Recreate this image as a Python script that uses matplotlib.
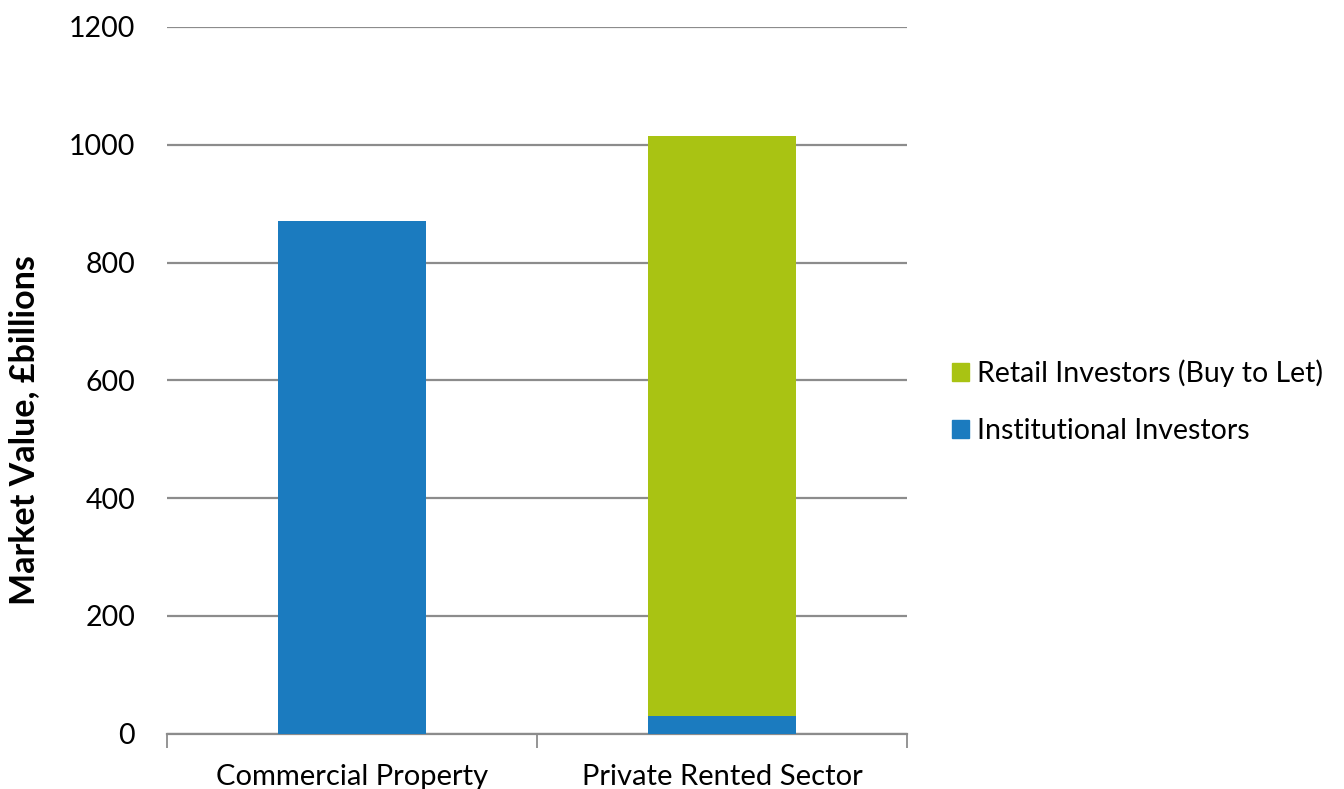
import matplotlib
matplotlib.use("Agg")
import matplotlib.pyplot as plt
from matplotlib.patches import Patch

categories = ["Commercial Property", "Private Rented Sector"]
institutional = [870, 29]
retail = [0, 986]
y_ticks = [0, 200, 400, 600, 800, 1000, 1200]

blue = "#1B7BBF"
green = "#A9C313"
grid_col = "#8C8C8C"

plt.rcParams["font.family"] = ["Lato", "DejaVu Sans"]

fig = plt.figure(figsize=(13.44, 7.89), dpi=100)
ax = fig.add_axes([0.1243, 0.0703, 0.5506, 0.8955])

x = list(range(len(categories)))
ax.bar(x, institutional, width=0.4, color=blue, zorder=3)
ax.bar(x, retail, width=0.4, bottom=institutional, color=green, zorder=3)

ax.set_xlim(-0.5, 1.5)
ax.set_ylim(0, 1200)
ax.set_yticks(y_ticks)
ax.set_yticklabels([str(v) for v in y_ticks], fontsize=20.5)
ax.tick_params(axis="y", length=0, pad=23)
ax.yaxis.grid(True, color=grid_col, linewidth=1.6, zorder=0)
ax.set_axisbelow(True)

# category labels centred under bars, ticks at category boundaries
ax.set_xticks([-0.5, 0.5, 1.5])
ax.set_xticklabels([])
ax.tick_params(axis="x", direction="out", length=10, width=1.3, color=grid_col)
for xi, lab in zip(x, categories):
    ax.annotate(lab, xy=(xi, 0), xycoords=ax.get_xaxis_transform(),
                xytext=(0, -37), textcoords="offset points",
                ha="center", va="baseline", fontsize=21)

for side in ["left", "right", "top"]:
    ax.spines[side].set_visible(False)
ax.spines["bottom"].set_color(grid_col)
ax.spines["bottom"].set_linewidth(1.6)

fig.text(0.018, 0.455, "Market Value, £billions", rotation=90, ha="center",
         va="center", fontsize=24.5, fontweight="bold")

handles = [Patch(color=green), Patch(color=blue)]
fig.legend(handles, ["Retail Investors (Buy to Let)", "Institutional Investors"],
           loc="center left", bbox_to_anchor=(0.7083, 0.4905), frameon=False,
           fontsize=20.5, handlelength=0.6, handleheight=0.6,
           handletextpad=0.28, labelspacing=1.08, borderpad=0,
           borderaxespad=0)

fig.savefig("out.png", dpi=100)
